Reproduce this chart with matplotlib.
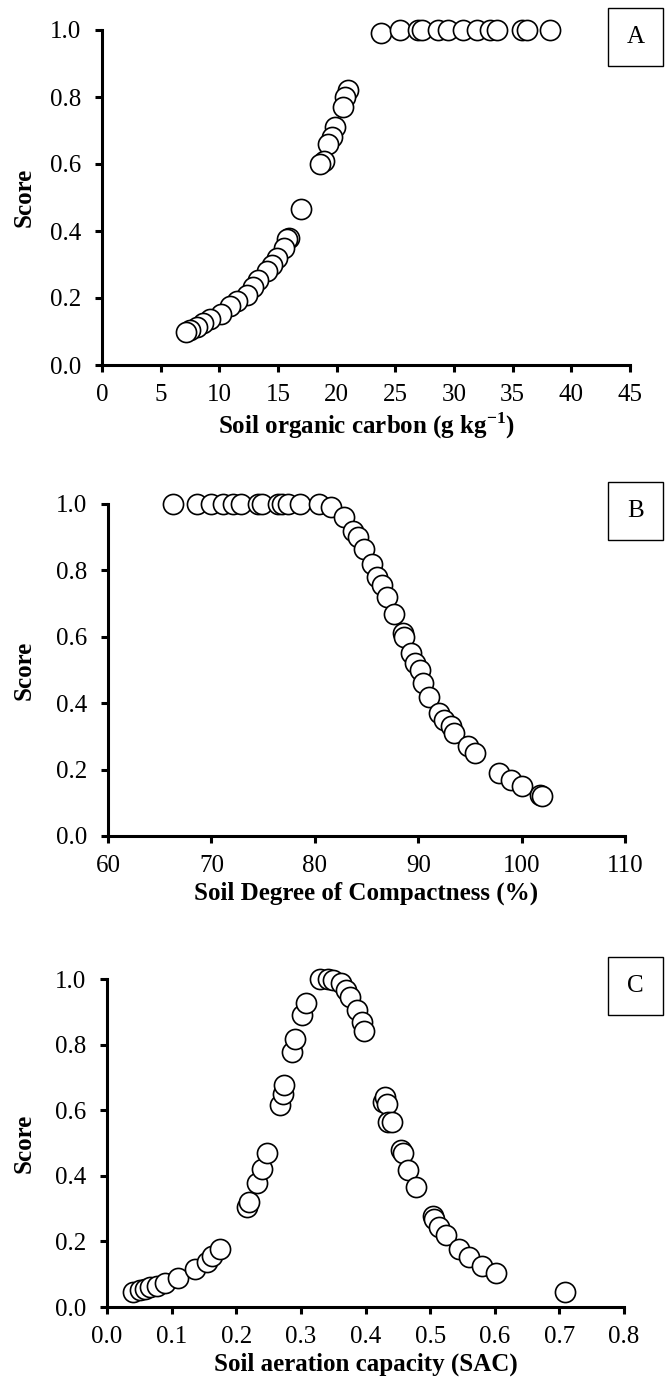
import matplotlib.pyplot as plt
from matplotlib.patches import Rectangle

plt.rcParams['font.family'] = ['Liberation Serif', 'DejaVu Serif']
plt.rcParams['mathtext.fontset'] = 'custom'
plt.rcParams['mathtext.rm'] = 'Liberation Serif'
plt.rcParams['mathtext.bf'] = 'Liberation Serif:bold'

# panel A - soil organic carbon
soc_x = [23.8, 25.4, 26.9, 27.3, 28.6, 29.5, 30.8, 32.0, 33.1, 33.7, 35.8, 36.2, 38.2,
         21.0, 20.7, 20.5, 19.9, 19.6, 19.3, 18.9, 18.6, 17.0,
         15.9, 15.8, 15.5, 14.9, 14.5, 14.1, 13.3, 12.9, 12.4, 11.5, 10.9, 10.1,
         9.2, 8.6, 8.1, 7.5, 7.2]
soc_y = [0.99, 1.0, 1.0, 1.0, 1.0, 1.0, 1.0, 1.0, 1.0, 1.0, 1.0, 1.0, 1.0,
         0.82, 0.80, 0.77, 0.71, 0.68, 0.66, 0.61, 0.60, 0.465,
         0.38, 0.375, 0.35, 0.32, 0.30, 0.28, 0.254, 0.233, 0.21, 0.19, 0.175, 0.152,
         0.137, 0.125, 0.113, 0.104, 0.10]

# panel B - degree of compactness
sdc_x = [66.3, 68.6, 70.0, 71.1, 72.1, 72.9, 74.5, 74.9, 76.4, 76.8, 77.4, 78.6, 80.4,
         81.6, 82.8, 83.7, 84.2, 84.8, 85.5, 86.0, 86.5, 87.0, 87.7, 88.5, 88.6,
         89.3, 89.7, 90.2, 90.5, 91.0, 92.0, 92.5, 93.2, 93.5, 94.8, 95.5,
         97.8, 99.0, 100.0, 101.8, 102.0]
sdc_y = [1.0, 1.0, 1.0, 1.0, 1.0, 1.0, 1.0, 1.0, 1.0, 1.0, 1.0, 1.0, 1.0,
         0.99, 0.96, 0.92, 0.90, 0.865, 0.82, 0.78, 0.756, 0.72, 0.67, 0.61, 0.60,
         0.55, 0.52, 0.50, 0.46, 0.42, 0.37, 0.35, 0.33, 0.31, 0.27, 0.25,
         0.19, 0.17, 0.15, 0.125, 0.12]

# panel C - aeration capacity
sac_x = [0.040, 0.051, 0.059, 0.067, 0.077, 0.090, 0.110, 0.136, 0.155, 0.163, 0.175,
         0.217, 0.220, 0.232, 0.240, 0.248, 0.268, 0.272, 0.274, 0.286, 0.291, 0.302, 0.308,
         0.330, 0.342, 0.350, 0.362, 0.370, 0.376, 0.387, 0.395, 0.398,
         0.427, 0.430, 0.433, 0.435, 0.441, 0.455, 0.458, 0.466, 0.478,
         0.505, 0.506, 0.514, 0.525, 0.545, 0.560, 0.580, 0.602, 0.709]
sac_y = [0.046, 0.052, 0.055, 0.061, 0.064, 0.073, 0.088, 0.116, 0.137, 0.155, 0.177,
         0.305, 0.32, 0.378, 0.42, 0.47, 0.615, 0.65, 0.677, 0.778, 0.817, 0.89, 0.927,
         1.0, 1.0, 0.997, 0.988, 0.966, 0.945, 0.905, 0.869, 0.84,
         0.625, 0.64, 0.62, 0.565, 0.565, 0.48, 0.47, 0.418, 0.366,
         0.277, 0.268, 0.244, 0.22, 0.177, 0.153, 0.125, 0.104, 0.046]

W, H = 665, 1395
fig = plt.figure(figsize=(W / 100, H / 100), dpi=100)

panels = [
    # left, right, top, bottom (px), data, xlim, xticks, xlabel, letter
    (102, 630, 30, 365, soc_x, soc_y, (0, 45), range(0, 50, 5), [str(v) for v in range(0, 50, 5)],
     r'Soil organic carbon (g kg$^{\mathbf{-1}}$)', 'A'),
    (108, 625, 504, 836, sdc_x, sdc_y, (60, 110), range(60, 120, 10), [str(v) for v in range(60, 120, 10)],
     'Soil Degree of Compactness (%)', 'B'),
    (107, 624, 979, 1307, sac_x, sac_y, (0, 0.8), [i / 10 for i in range(9)], ['%.1f' % (i / 10) for i in range(9)],
     'Soil aeration capacity (SAC)', 'C'),
]

for l, r, t, b, xs, ys, xlim, xt, xtl, xlabel, letter in panels:
    ax = fig.add_axes([l / W, 1 - b / H, (r - l) / W, (b - t) / H])
    ax.scatter(xs, ys, s=210, facecolor='white', edgecolor='black', linewidth=1.2,
               zorder=3, clip_on=False)
    ax.set_xlim(*xlim)
    ax.set_ylim(0, 1.0)
    ax.set_xticks(list(xt))
    ax.set_xticklabels(xtl)
    ax.set_yticks([0, 0.2, 0.4, 0.6, 0.8, 1.0])
    ax.set_yticklabels(['0.0', '0.2', '0.4', '0.6', '0.8', '1.0'])
    for side in ['top', 'right']:
        ax.spines[side].set_visible(False)
    for side in ['left', 'bottom']:
        ax.spines[side].set_linewidth(2.2)
    ax.tick_params(axis='both', direction='out', length=5, width=2.2, labelsize=18)
    ax.tick_params(axis='y', pad=10)
    ax.tick_params(axis='x', pad=9)
    ax.set_xlabel(xlabel, fontsize=18, fontweight='bold', labelpad=3)
    ax.set_ylabel('Score', fontsize=18, fontweight='bold')
    ax.yaxis.set_label_coords((36 - l) / (r - l), 0.5)

    # letter box in top right corner
    cy = t + 7
    fig.patches.append(Rectangle(((608) / W, 1 - (cy + 29) / H), 55 / W, 58 / H,
                                 transform=fig.transFigure, facecolor='white',
                                 edgecolor='black', linewidth=1.0))
    fig.text(635.5 / W, 1 - cy / H, letter, ha='center', va='center', fontsize=18)

fig.savefig('out.png', dpi=100)
